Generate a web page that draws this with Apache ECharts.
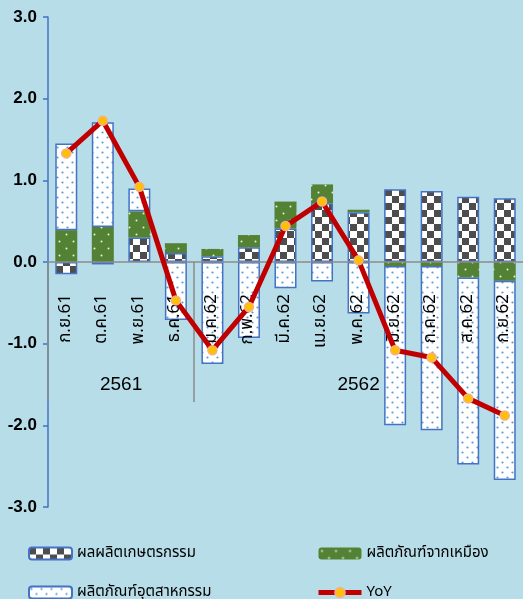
<!DOCTYPE html>
<html>
<head>
<meta charset="UTF-8">
<title>YoY</title>
<script src="https://cdn.jsdelivr.net/npm/echarts@6/dist/echarts.min.js"></script>
<style>
html,body{margin:0;padding:0;background:#b7dde8;}
#chart{width:523px;height:599px;}
</style>
</head>
<body>
<div id="chart"></div>
<script>
var categories = ['ก.ย.61','ต.ค.61','พ.ย.61','ธ.ค.61','ม.ค.62','ก.พ.62','มี.ค.62','เม.ย.62','พ.ค.62','มิ.ย.62','ก.ค.62','ส.ค.62','ก.ย.62'];
var agri     = [-0.15, -0.03, 0.30, 0.11, 0.07, 0.18, 0.41, 0.72, 0.61, 0.89, 0.87, 0.80, 0.78];
var mining   = [0.39, 0.43, 0.32, 0.12, 0.09, 0.15, 0.33, 0.23, 0.03, -0.05, -0.05, -0.19, -0.23];
var industry = [1.06, 1.28, 0.28, -0.71, -1.25, -0.93, -0.32, -0.24, -0.63, -1.95, -2.01, -2.29, -2.44];
var yoy      = [1.33, 1.73, 0.92, -0.47, -1.08, -0.55, 0.44, 0.74, 0.02, -1.08, -1.17, -1.67, -1.88];
var years = ['2561', '2562'];
var yearStart = [0, 4];   // index of first month in each year
var names = ['ผลผลิตเกษตรกรรม', 'ผลิตภัณฑ์จากเหมือง', 'ผลิตภัณฑ์อุตสาหกรรม', 'YoY'];

var thaiFont = '"Noto Sans Thai", "Noto Sans", Tahoma, sans-serif';

// fill patterns
function checker(){
  var c = document.createElement('canvas'); c.width = 14; c.height = 14;
  var g = c.getContext('2d');
  g.fillStyle = '#ffffff'; g.fillRect(0,0,14,14);
  g.fillStyle = '#4d4d4d'; g.fillRect(0,0,7,7); g.fillRect(7,7,7,7);
  return c;
}
function dots(bg, dot, size, r){
  var c = document.createElement('canvas'); c.width = size; c.height = size;
  var g = c.getContext('2d');
  g.fillStyle = bg; g.fillRect(0,0,size,size);
  g.fillStyle = dot;
  g.beginPath(); g.arc(size*0.25, size*0.25, r, 0, Math.PI*2); g.fill();
  g.beginPath(); g.arc(size*0.75, size*0.75, r, 0, Math.PI*2); g.fill();
  return c;
}

var chart = echarts.init(document.getElementById('chart'));

var yearEnds = yearStart.concat([categories.length]);
var yearMid = years.map(function(y, i){ return (yearEnds[i] + yearEnds[i+1]) / 2; });

// grid 0 holds the data (-3..3); grids 1 and 2 end at the zero line and carry the month / year labels
var labelGrid = {left: 48, right: 0, top: 17, bottom: 337, outerBoundsMode: 'none'};
var legendBase = {
  orient: 'vertical', top: 546, height: 60, padding: 0,
  itemWidth: 43, itemHeight: 12, itemGap: 24,
  textStyle: {fontSize: 15, color: '#000', fontFamily: thaiFont}
};

var option = {
  backgroundColor: '#b7dde8',
  animation: false,
  grid: [
    {left: 48, right: 0, top: 17, bottom: 92, outerBoundsMode: 'none'},
    labelGrid,
    labelGrid
  ],
  legend: [
    Object.assign({}, legendBase, {data: [names[0], names[2]], left: 28}),
    Object.assign({}, legendBase, {data: [names[1], {name: names[3], lineStyle: {width: 5}}], left: 316})
  ],
  xAxis: [{
    type: 'category',
    data: categories,
    z: 5,
    axisLine: {onZero: true, lineStyle: {color: '#8c8c8c', width: 1.5}},
    axisTick: {show: false},
    axisLabel: {show: false}
  }, {
    type: 'category', gridIndex: 1,
    data: categories,
    position: 'bottom',
    z: 5,
    axisLine: {show: false, onZero: false},
    axisTick: {show: false},
    axisLabel: {interval: 0, rotate: 90, margin: 32, fontSize: 17, color: '#000', fontFamily: thaiFont}
  }, {
    type: 'value', gridIndex: 2,
    min: 0, max: categories.length,
    position: 'bottom',
    offset: 140,
    z: 5,
    splitLine: {show: false},
    axisLine: {show: false, onZero: false},
    axisTick: {show: true, customValues: yearStart, inside: true, length: 140, lineStyle: {color: '#8c8c8c', width: 1.5}},
    axisLabel: {
      customValues: yearMid, inside: true, margin: 8,
      fontSize: 19, color: '#000', fontFamily: '"Liberation Sans Narrow", "Liberation Sans", sans-serif',
      formatter: function(v){ return years[yearMid.indexOf(v)]; }
    }
  }],
  yAxis: [{
    type: 'value',
    min: -3, max: 3, interval: 1,
    splitLine: {show: false},
    axisLine: {show: true, onZero: false, lineStyle: {color: '#4472c4', width: 1.5}},
    axisTick: {show: true, length: 5, lineStyle: {color: '#4472c4', width: 1.5}},
    axisLabel: {
      margin: 11, fontSize: 17, fontWeight: 'bold', color: '#000',
      fontFamily: '"Liberation Sans", Arial, sans-serif',
      formatter: function(v){ return v.toFixed(1); }
    }
  }, {
    type: 'value', gridIndex: 1, show: false, min: 0, max: 1, axisLine: {onZero: false}
  }, {
    type: 'value', gridIndex: 2, show: false, min: 0, max: 1, axisLine: {onZero: false}
  }],
  series: [{
    name: names[0], type: 'bar', stack: 'total', data: agri, barWidth: 22,
    itemStyle: {color: {image: checker(), repeat: 'repeat'}, borderColor: '#4472c4', borderWidth: 1.5}
  }, {
    name: names[1], type: 'bar', stack: 'total', data: mining, barWidth: 22,
    itemStyle: {color: {image: dots('#548235', '#e8f0e0', 14, 1), repeat: 'repeat'}}
  }, {
    name: names[2], type: 'bar', stack: 'total', data: industry, barWidth: 22,
    itemStyle: {color: {image: dots('#ffffff', '#5b9bd5', 10, 1.1), repeat: 'repeat'}, borderColor: '#4472c4', borderWidth: 1.5}
  }, {
    name: names[3], type: 'line', data: yoy, z: 10,
    symbol: 'circle', symbolSize: 9,
    lineStyle: {color: '#c00000', width: 5},
    itemStyle: {color: '#ffc000', borderColor: '#f4b183', borderWidth: 1.5}
  }]
};
chart.setOption(option);
</script>
</body>
</html>
